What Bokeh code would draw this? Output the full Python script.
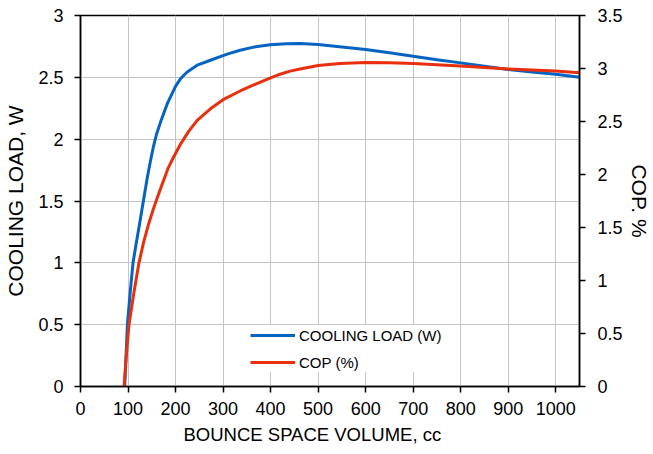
from bokeh.plotting import figure
from bokeh.models import Range1d, LinearAxis, FixedTicker, CustomJSTickFormatter, Legend, LegendItem, Title
from bokeh.embed import file_html
from bokeh.resources import INLINE

# Data
volume_cool = [93, 95.5, 98.7, 104.5, 110.5, 116.5, 123, 132.3, 140.7, 147, 153.2, 160, 168.6, 182.6,
               200, 210.5, 224.5, 245.5, 273.4, 294, 312, 336, 364, 399, 434, 462, 500, 550, 600,
               650, 700, 750, 800, 850, 900, 950, 1000, 1050]
cooling_load = [0, 0.22, 0.5, 0.76, 1.0, 1.14, 1.285, 1.5, 1.692, 1.82, 1.935, 2.04, 2.14, 2.287,
                2.427, 2.49, 2.543, 2.598, 2.638, 2.668, 2.692, 2.719, 2.744, 2.763, 2.771, 2.773, 2.765, 2.746, 2.725,
                2.698, 2.67, 2.643, 2.617, 2.59, 2.563, 2.543, 2.525, 2.50]

volume_cop = [91.7, 96, 102, 112, 123, 133, 143, 152, 161, 172, 183.9, 196.5, 210.5, 228, 245.5, 273.4,
              300, 336, 371, 400, 420, 441, 462, 500, 546, 600, 650, 700, 750, 800, 850, 900, 950, 1000, 1050]
cop = [0, 0.268, 0.583, 0.875, 1.167, 1.365, 1.528, 1.657, 1.773, 1.911, 2.055, 2.17, 2.287, 2.409, 2.511, 2.620,
       2.706, 2.788, 2.858, 2.911, 2.946, 2.975, 2.995, 3.028, 3.047, 3.057, 3.054, 3.046, 3.036, 3.024, 3.010,
       2.996, 2.986, 2.976, 2.961]

x_ticks = [0, 100, 200, 300, 400, 500, 600, 700, 800, 900, 1000]
left_ticks = [0, 0.5, 1, 1.5, 2, 2.5, 3]
right_ticks = [0, 0.5, 1, 1.5, 2, 2.5, 3, 3.5]

FONT = "Liberation Sans"
BLUE = "#0563C1"
RED = "#E8300E"

p = figure(width=653, height=454, output_backend="svg", toolbar_location=None,
           x_range=Range1d(0, 1050), y_range=Range1d(0, 3),
           min_border_left=80, min_border_right=72, min_border_top=15, min_border_bottom=68)
p.extra_y_ranges = {"cop": Range1d(0, 3.5)}

fmt = CustomJSTickFormatter(code="return tick.toString();")

def style_axis(ax, label_size="21px"):
    ax.axis_line_color = "black"
    ax.axis_line_width = 1.5
    ax.major_tick_line_color = "black"
    ax.major_tick_line_width = 1.5
    ax.major_tick_out = 6
    ax.major_tick_in = 0
    ax.minor_tick_line_color = None
    ax.major_label_text_font = FONT
    ax.major_label_text_font_size = "18px"
    ax.major_label_text_color = "black"
    ax.axis_label_text_font = FONT
    ax.axis_label_text_font_size = label_size
    ax.axis_label_text_font_style = "normal"
    ax.axis_label_text_color = "black"
    ax.formatter = fmt

xa = p.xaxis[0]
style_axis(xa)
xa.ticker = FixedTicker(ticks=x_ticks)
xa.major_label_standoff = 9

ya = p.yaxis[0]
style_axis(ya)
ya.ticker = FixedTicker(ticks=left_ticks)
ya.axis_label = "COOLING LOAD, W"
ya.major_label_standoff = 11
ya.axis_label_standoff = 8

ra = LinearAxis(y_range_name="cop", axis_label="COP. %")
style_axis(ra)
ra.ticker = FixedTicker(ticks=right_ticks)
ra.major_label_standoff = 12
ra.axis_label_standoff = 2
p.add_layout(ra, "right")

xtitle = Title(text="BOUNCE SPACE VOLUME, cc", align="left", offset=103, standoff=8,
               text_font=FONT, text_font_size="18.5px", text_font_style="normal", text_color="black")
p.add_layout(xtitle, "below")

p.xgrid.ticker = FixedTicker(ticks=x_ticks)
p.ygrid.ticker = FixedTicker(ticks=left_ticks)
p.xgrid.grid_line_color = "#c4c4c4"
p.ygrid.grid_line_color = "#c4c4c4"
p.xgrid.grid_line_width = 1
p.ygrid.grid_line_width = 1

p.outline_line_color = "black"
p.outline_line_width = 1.5
p.background_fill_color = "white"
p.border_fill_color = "white"

r1 = p.line(volume_cool, cooling_load, line_color=BLUE, line_width=3, line_join="round")
r2 = p.line(volume_cop, cop, line_color=RED, line_width=3, line_join="round", y_range_name="cop")

legend = Legend(items=[LegendItem(label="COOLING LOAD (W)", renderers=[r1]),
                       LegendItem(label="COP (%)", renderers=[r2])],
                location=(170, 14))
legend.label_text_font = FONT
legend.label_text_font_size = "15px"
legend.label_text_color = "black"
legend.glyph_width = 45
legend.glyph_height = 20
legend.label_height = 20
legend.label_standoff = 4
legend.spacing = 7
legend.padding = 8
legend.margin = 0
legend.border_line_color = None
legend.background_fill_color = "white"
legend.background_fill_alpha = 1
p.add_layout(legend, "center")

open("out.html", "w").write(file_html(p, INLINE))
